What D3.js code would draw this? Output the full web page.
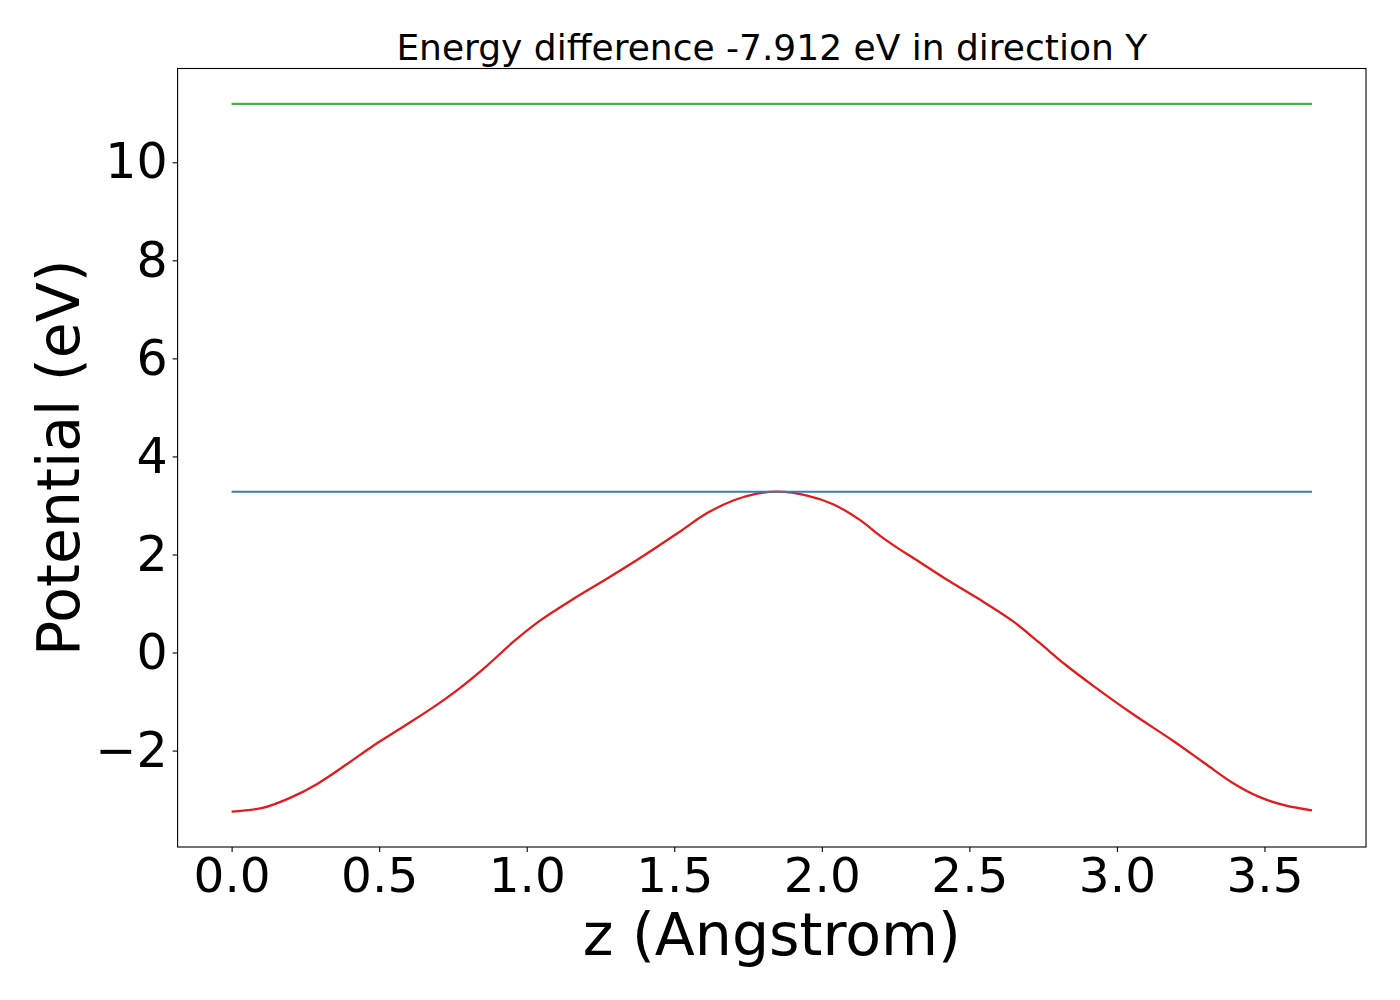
<!DOCTYPE html>
<html>
<head>
<meta charset="utf-8">
<script src="https://cdn.jsdelivr.net/npm/d3@7"></script>
<style>
	body { margin: 0; background: white; }
	svg { display: block; font-family: "DejaVu Sans", sans-serif; }
</style>
</head>
<body>
<svg class="display" width="1400" height="1000"></svg>
<script>
// position along z
const zValues = [0.000, 0.105, 0.20, 0.29, 0.39, 0.48, 0.58, 0.68, 0.77, 0.865,
	0.955, 1.045, 1.16, 1.27, 1.40, 1.52, 1.61, 1.70, 1.78, 1.85,
	1.95, 2.04, 2.13, 2.20, 2.26, 2.31, 2.42, 2.53, 2.645, 2.735,
	2.83, 2.92, 3.05, 3.19, 3.30, 3.39, 3.48, 3.57, 3.661]
// potential in eV
const potential = [-3.245, -3.17, -2.96, -2.68, -2.28, -1.90, -1.52, -1.13, -0.74, -0.27,
	0.22, 0.65, 1.10, 1.50, 1.99, 2.47, 2.84, 3.10, 3.24, 3.28,
	3.20, 3.02, 2.70, 2.37, 2.12, 1.93, 1.50, 1.10, 0.65, 0.21,
	-0.27, -0.68, -1.24, -1.80, -2.27, -2.65, -2.94, -3.12, -3.22]
const barrierLevel = 3.279
const upperLevel = 11.191
const xTicks = [0.0, 0.5, 1.0, 1.5, 2.0, 2.5, 3.0, 3.5]
const yTicks = [-2, 0, 2, 4, 6, 8, 10]
const titleText = "Energy difference -7.912 eV in direction Y"

const box = { left: 177.6, right: 1366, top: 68.5, bottom: 847 }

const pad = (lo, hi) => [lo - (hi - lo) * 0.05, hi + (hi - lo) * 0.05]
const zMin = d3.min(zValues), zMax = d3.max(zValues)
const vMin = d3.min([...potential, barrierLevel, upperLevel])
const vMax = d3.max([...potential, barrierLevel, upperLevel])

const x = d3.scaleLinear().domain(pad(zMin, zMax)).range([box.left, box.right])
const y = d3.scaleLinear().domain(pad(vMin, vMax)).range([box.bottom, box.top])

const svg = d3.select(".display")
const points = zValues.map((z, i) => ({ z: z, v: potential[i] }))

const line = d3.line()
	.x(d => x(d.z))
	.y(d => y(d.v))
	.curve(d3.curveCatmullRom.alpha(0.5))

svg.append("path")
	.datum(points)
	.attr("d", line)
	.attr("fill", "none")
	.attr("stroke", "#e41a1c")
	.attr("stroke-width", 2.3)

const levels = [
	{ v: barrierLevel, color: "#377eb8" },
	{ v: upperLevel, color: "#4daf4a" }
]
svg.selectAll(".level")
	.data(levels)
	.enter()
	.append("line")
	.attr("class", "level")
	.attr("x1", x(zMin))
	.attr("x2", x(zMax))
	.attr("y1", d => y(d.v))
	.attr("y2", d => y(d.v))
	.attr("stroke", d => d.color)
	.attr("stroke-width", 2.2)

const fmtY = v => (v < 0 ? "\u2212" : "") + Math.abs(v)

const xAxis = svg.append("g")
	.attr("transform", `translate(0,${box.bottom})`)
	.call(d3.axisBottom(x).tickValues(xTicks).tickFormat(d3.format(".1f")).tickSize(5).tickPadding(6))
xAxis.selectAll("text")
	.attr("font-size", 48.5)
	.attr("font-family", "DejaVu Sans")
	.attr("fill", "black")

const yAxis = svg.append("g")
	.attr("transform", `translate(${box.left},0)`)
	.call(d3.axisLeft(y).tickValues(yTicks).tickFormat(fmtY).tickSize(5).tickPadding(5))
yAxis.selectAll("text")
	.attr("font-size", 49)
	.attr("font-family", "DejaVu Sans")
	.attr("fill", "black")

svg.selectAll(".domain").remove()
svg.selectAll(".tick line").attr("stroke", "black").attr("stroke-width", 1.1)

svg.append("rect")
	.attr("x", box.left)
	.attr("y", box.top)
	.attr("width", box.right - box.left)
	.attr("height", box.bottom - box.top)
	.attr("fill", "none")
	.attr("stroke", "black")
	.attr("stroke-width", 1.1)

const midX = (box.left + box.right) / 2
svg.append("text")
	.attr("x", midX)
	.attr("y", 60)
	.attr("text-anchor", "middle")
	.attr("font-size", 36)
	.text(titleText)

svg.append("text")
	.attr("x", midX)
	.attr("y", 955)
	.attr("text-anchor", "middle")
	.attr("font-size", 58.5)
	.text("z (Angstrom)")

svg.append("text")
	.attr("transform", `translate(79,${(box.top + box.bottom) / 2}) rotate(-90)`)
	.attr("text-anchor", "middle")
	.attr("font-size", 58.5)
	.text("Potential (eV)")
</script>
</body>
</html>
